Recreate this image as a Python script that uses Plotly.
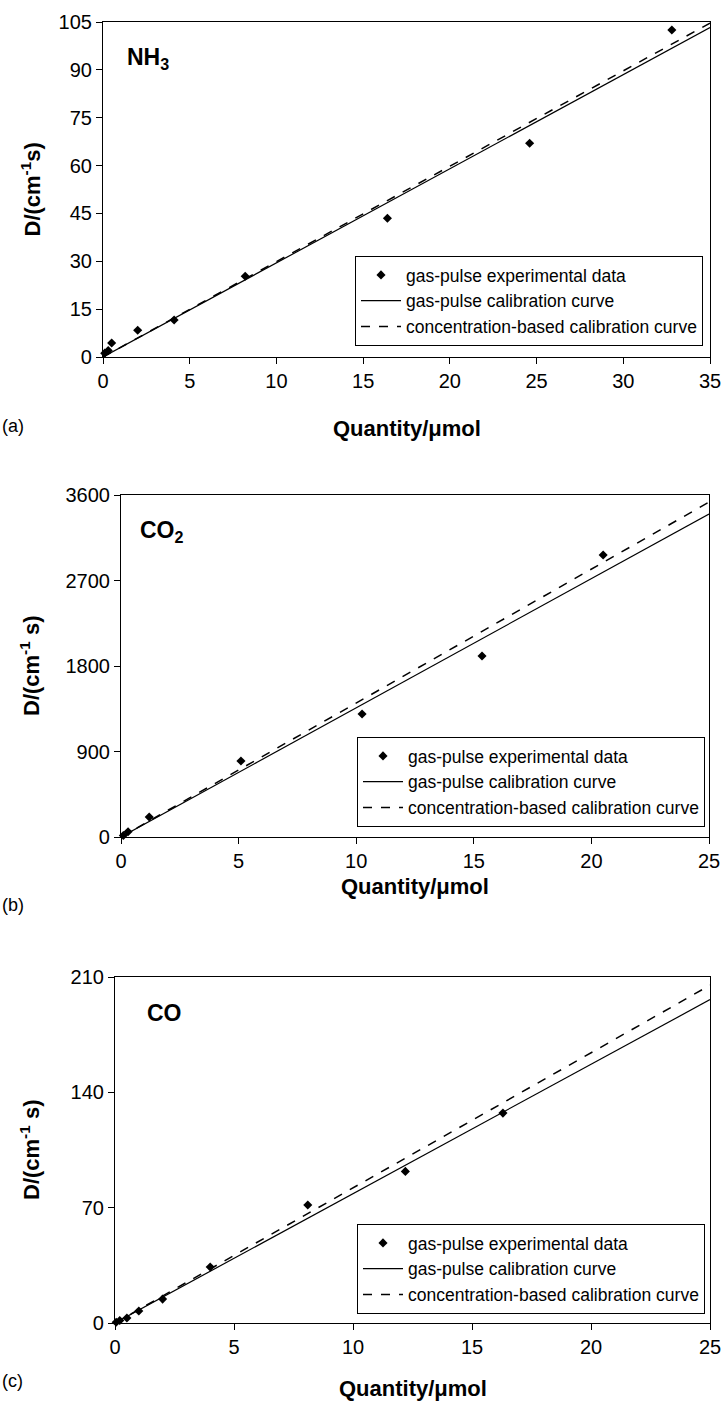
import plotly.graph_objects as go

W, H = 725, 1405

# ---- data ----
nh3_q = [0.1, 0.3, 0.5, 2.0, 4.1, 8.2, 16.4, 24.6, 32.8]
nh3_d = [1.2, 2.0, 4.4, 8.4, 11.6, 25.3, 43.5, 67.0, 102.5]
nh3_fit_pulse = 2.95
nh3_fit_conc = 2.99

co2_q = [0.1, 0.3, 1.2, 5.1, 10.25, 15.35, 20.5]
co2_d = [15, 55, 210, 800, 1295, 1905, 2968]
co2_fit_pulse = 136.0
co2_fit_conc = 141.0

co_q = [0.05, 0.2, 0.5, 1.0, 2.0, 4.0, 8.1, 12.2, 16.3]
co_d = [0.5, 1.5, 3.0, 7.3, 14.5, 34.0, 71.6, 92.0, 127.4]
co_fit_pulse = 7.85
co_fit_conc = 8.2

panels = [
    dict(q=nh3_q, d=nh3_d, kp=nh3_fit_pulse, kc=nh3_fit_conc, xmax=35, xdt=5,
         ymax=105, ydt=15, box=(103, 710, 22, 357), gas="NH<sub>3</sub>", gx=22,
         ytitle="D/(cm<sup>-1</sup>s)", tag="(a)", tagy=426, xty=428,
         leg=(703, 346)),
    dict(q=co2_q, d=co2_d, kp=co2_fit_pulse, kc=co2_fit_conc, xmax=25, xdt=5,
         ymax=3600, ydt=900, box=(121, 709, 495, 837), gas="CO<sub>2</sub>", gx=17,
         ytitle="D/(cm<sup>-1</sup> s)", tag="(b)", tagy=905, xty=886,
         leg=(705, 827)),
    dict(q=co_q, d=co_d, kp=co_fit_pulse, kc=co_fit_conc, xmax=25, xdt=5,
         ymax=210, ydt=70, box=(115, 710, 977, 1323), gas="CO", gx=30,
         ytitle="D/(cm<sup>-1</sup> s)", tag="(c)", tagy=1381, xty=1388,
         leg=(705, 1314)),
]

FONT = "Liberation Sans, Arial, sans-serif"
fig = go.Figure()
annotations = []

for i, p in enumerate(panels):
    n = "" if i == 0 else str(i + 1)
    xa, ya = "x" + n, "y" + n
    lg = "legend" + n
    x0, x1, y0, y1 = p["box"]

    fig.add_trace(go.Scatter(
        x=p["q"], y=p["d"], mode="markers", xaxis=xa, yaxis=ya, legend=lg,
        name="gas-pulse experimental data",
        marker=dict(symbol="diamond", size=7, color="black"), cliponaxis=False))
    xs = [0, p["xmax"]]
    fig.add_trace(go.Scatter(
        x=xs, y=[p["kp"] * v for v in xs], mode="lines", xaxis=xa, yaxis=ya,
        legend=lg, name="gas-pulse calibration curve",
        line=dict(color="black", width=1.2)))
    fig.add_trace(go.Scatter(
        x=xs, y=[p["kc"] * v for v in xs], mode="lines", xaxis=xa, yaxis=ya,
        legend=lg, name="concentration-based calibration curve",
        line=dict(color="black", width=1.5, dash="dash")))

    common = dict(showgrid=False, zeroline=False, showline=True, linecolor="black",
                  linewidth=1.2, mirror=True, ticks="outside", ticklen=6,
                  tickcolor="black", tickwidth=1, automargin=False,
                  tickfont=dict(family=FONT, size=20, color="black"))
    fig.update_layout({
        "xaxis" + n: dict(domain=[x0 / W, x1 / W], range=[0, p["xmax"]],
                          tick0=0, dtick=p["xdt"], anchor=ya, **common),
        "yaxis" + n: dict(domain=[1 - y1 / H, 1 - y0 / H], range=[0, p["ymax"]],
                          tick0=0, dtick=p["ydt"], anchor=xa, **common),
        lg: dict(x=p["leg"][0] / W, y=1 - p["leg"][1] / H, xanchor="right",
                 yanchor="bottom", bordercolor="black", borderwidth=1,
                 bgcolor="white", font=dict(family=FONT, size=17.5, color="black"),
                 tracegroupgap=0, itemwidth=40),
    })

    annotations += [
        dict(text="<b>%s</b>" % p["gas"], x=x0 + p["gx"], y=y0 + 36, xanchor="left",
             yanchor="middle", font=dict(size=23)),
        dict(text="<b>%s</b>" % p["ytitle"], x=30, y=(y0 + y1) / 2,
             textangle=-90, xanchor="center", yanchor="middle", font=dict(size=22)),
        dict(text="<b>Quantity/μmol</b>", x=(x0 + x1) / 2, y=p["xty"],
             xanchor="center", yanchor="middle", font=dict(size=22)),
        dict(text=p["tag"], x=0, y=p["tagy"], xanchor="left", yanchor="middle",
             font=dict(size=18)),
    ]

for a in annotations:
    a.update(xref="paper", yref="paper", showarrow=False)
    a["x"] = a["x"] / W
    a["y"] = 1 - a["y"] / H
    a["font"] = dict(family=FONT, color="black", size=a["font"]["size"])

fig.update_layout(width=W, height=H,
                  margin=dict(l=0, r=0, t=0, b=0, pad=0, autoexpand=False),
                  paper_bgcolor="white", plot_bgcolor="white",
                  annotations=annotations, showlegend=True,
                  font=dict(family=FONT, color="black"))

# page body without default margin so the figure fills the window exactly
fig.write_html("out.html",
               post_script="document.body.style.margin='0';"
                           "document.body.style.overflow='hidden';")
